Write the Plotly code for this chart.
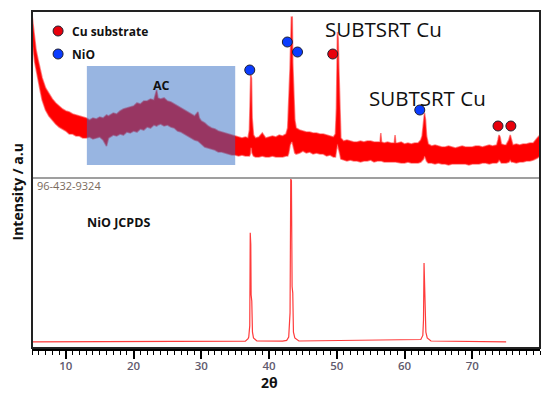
import plotly.graph_objects as go

# ---------------- data ----------------
# Top panel: measured XRD pattern, noisy band given by its upper / lower envelope (a.u.)
two_theta_top = [5.0, 5.2, 5.4, 5.6, 5.9, 6.2, 6.5, 7.0, 7.5, 8.0, 8.5, 9.0, 9.5, 10.0, 10.5,
                 11.0, 11.5, 12.0, 12.5, 13.0, 13.5, 14.0, 14.5, 15.0, 15.5, 16.0, 16.3, 17.0,
                 17.5, 18.0, 18.5, 19.0, 19.5, 20.0, 20.5, 21.0, 21.5, 22.0, 22.5, 23.0, 23.4,
                 23.6, 24.0, 24.5, 25.0, 25.5, 26.0, 26.5, 27.0, 27.5, 28.0, 28.5, 29.0, 29.5,
                 29.7, 30.0, 30.5, 31.0, 31.5, 32.0, 32.5, 33.0, 33.5, 34.0, 34.5, 35.0, 35.5,
                 36.0, 36.5, 36.9, 37.1, 37.22, 37.3, 37.4, 37.5, 37.7, 38.0, 38.5, 39.0, 39.5,
                 40.0, 40.5, 41.0, 41.5, 42.0, 42.5, 42.75, 42.9, 43.1, 43.3, 43.42, 43.5, 43.65,
                 43.8, 44.0, 44.5, 45.0, 45.5, 46.0, 46.5, 47.0, 47.5, 48.0, 48.5, 49.0, 49.5,
                 49.8, 49.95, 50.1, 50.2, 50.3, 50.45, 50.6, 51.0, 51.5, 52.0, 52.5, 53.0, 53.5,
                 54.0, 54.5, 55.0, 55.5, 56.0, 56.4, 56.5, 56.6, 57.0, 57.5, 58.0, 58.5, 58.6,
                 58.7, 59.0, 59.5, 60.0, 60.5, 61.0, 61.5, 62.0, 62.4, 62.6, 62.8, 62.95, 63.1,
                 63.25, 63.5, 64.0, 64.5, 65.0, 65.5, 66.0, 66.5, 67.0, 67.5, 68.0, 68.5, 69.0,
                 69.5, 70.0, 70.5, 71.0, 71.5, 72.0, 72.5, 73.0, 73.6, 73.8, 73.95, 74.1, 74.3,
                 74.7, 75.0, 75.4, 75.6, 75.8, 76.0, 76.5, 77.0, 77.5, 78.0, 78.5, 79.0, 79.6,
                 80.0]
intensity_top_upper = [163, 150, 135, 128, 118, 108, 100, 90, 84, 79, 75, 72, 69, 67, 66,
                       64, 63, 62, 61, 60, 58, 60, 59, 61, 60, 63, 62, 65,
                       64, 67, 69, 70, 71, 72, 75, 74, 77, 77, 79, 78, 88,
                       80, 79, 80, 77, 76, 74, 72, 70, 68, 66, 64, 62, 66,
                       60, 57, 55, 52, 50, 49, 47, 46, 45, 44, 43, 42, 41,
                       40, 41, 40, 48, 70, 103, 100, 60, 43, 40, 41, 45, 40,
                       41, 42, 41, 43, 42, 44, 50, 75, 110, 161, 161, 115, 80,
                       58, 50, 48, 47, 46, 46, 45, 45, 44, 44, 43, 42, 41,
                       44, 70, 146, 140, 110, 70, 40, 37, 38, 37, 36, 36, 37,
                       36, 37, 37, 36, 36, 36, 45, 36, 35, 36, 35, 35, 43,
                       35, 35, 36, 34, 35, 34, 35, 35, 38, 42, 55, 65, 58,
                       42, 34, 32, 33, 32, 31, 31, 32, 31, 30, 31, 32, 31,
                       31, 31, 32, 32, 31, 32, 33, 32, 33, 38, 43, 41, 34,
                       33, 33, 38, 43, 38, 33, 34, 33, 34, 34, 35, 35, 40,
                       43]
intensity_top_lower = [143, 128, 116, 108, 98, 88, 78, 68, 62, 58, 54, 51, 49, 47, 44,
                       44, 42, 42, 40, 40, 41, 39, 40, 41, 38, 32, 40, 43,
                       42, 44, 43, 46, 45, 47, 46, 49, 48, 51, 50, 53, 52,
                       53, 54, 52, 53, 51, 50, 47, 46, 44, 42, 40, 38, 37,
                       36, 34, 31, 30, 29, 28, 26, 26, 25, 24, 23, 23, 22,
                       23, 22, 22, 22, 24, 30, 30, 25, 22, 21, 21, 22, 21,
                       21, 22, 21, 21, 21, 22, 22, 25, 33, 36, 36, 34, 30,
                       25, 24, 25, 27, 25, 26, 24, 25, 24, 24, 22, 23, 21,
                       21, 28, 34, 34, 30, 24, 19, 18, 17, 18, 17, 17, 16,
                       17, 17, 18, 16, 17, 17, 17, 17, 16, 16, 16, 16, 16,
                       16, 16, 15, 15, 16, 15, 15, 15, 16, 17, 19, 22, 20,
                       17, 15, 15, 14, 15, 14, 14, 13, 14, 14, 14, 14, 14,
                       13, 14, 14, 14, 15, 15, 14, 15, 15, 16, 18, 17, 15,
                       15, 15, 16, 18, 16, 16, 15, 16, 16, 17, 17, 18, 20,
                       22]

# Bottom panel: NiO reference pattern (relative intensity, %)
two_theta_ref = [5.0, 36.5, 36.9, 37.0, 37.15, 37.22, 37.3, 37.35, 37.45, 37.55, 37.7, 38.2,
                 42.0, 42.6, 42.9, 43.1, 43.2, 43.3, 43.4, 43.5, 43.6, 43.8, 44.4,
                 62.4, 62.7, 62.8, 62.88, 62.95, 63.05, 63.15, 63.35, 63.9, 75.0]
intensity_ref = [0, 0.5, 2, 3, 10, 67, 60, 29, 25, 6, 2.5, 0.6,
                 0.5, 1, 3, 18, 100, 99, 34, 30, 6, 2.5, 0.6,
                 1.5, 4, 13.5, 48.5, 34, 24.5, 6, 2.5, 0.6, 0]

# Phase markers on the measured pattern
cu_marker_theta = [49.4, 73.8, 75.7]
cu_marker_int = [124, 52, 52]
nio_marker_theta = [37.15, 42.7, 44.2, 62.25]
nio_marker_int = [108, 136, 126, 68]

x_ticks = [10, 20, 30, 40, 50, 60, 70]
ac_range = [13.1, 35.0]

RED = "#ff0000"
BLUE = "#0a3cff"
CU_RED = "#e8000b"

fig = go.Figure()

# measured pattern as filled noisy band
fig.add_trace(go.Scatter(
    x=two_theta_top + two_theta_top[::-1],
    y=intensity_top_upper + intensity_top_lower[::-1],
    fill="toself", fillcolor=RED, mode="lines",
    line=dict(color="rgba(255,40,40,0.55)", width=1.6), yaxis="y2",
    hoverinfo="skip", showlegend=False))

# reference pattern
fig.add_trace(go.Scatter(
    x=two_theta_ref, y=intensity_ref, mode="lines",
    line=dict(color="#ff3b3b", width=1.2), yaxis="y", showlegend=False))

# markers
fig.add_trace(go.Scatter(
    x=cu_marker_theta, y=cu_marker_int, mode="markers", yaxis="y2",
    marker=dict(size=10, color=CU_RED, line=dict(color="#202030", width=1)), showlegend=False))
fig.add_trace(go.Scatter(
    x=nio_marker_theta, y=nio_marker_int, mode="markers", yaxis="y2",
    marker=dict(size=10, color=BLUE, line=dict(color="#202030", width=1)), showlegend=False))
# legend markers
fig.add_trace(go.Scatter(
    x=[8.85, 8.85], y=[147, 124], mode="markers", yaxis="y2",
    marker=dict(size=10, color=[CU_RED, BLUE], line=dict(color="#202030", width=1)),
    showlegend=False))

SPLIT = (348 - 178) / 337.0

# the page body adds an 8 px margin, so the figure is 8 px smaller and margins shifted
fig.update_layout(
    width=542, height=386,
    margin=dict(l=24, r=10, t=3, b=46, autoexpand=False),
    paper_bgcolor="white", plot_bgcolor="white",
    font=dict(family="Open Sans", color="black"),
    xaxis=dict(
        range=[5, 80], tickvals=x_ticks, ticks="outside", ticklen=8, tickwidth=1.5,
        tickcolor="black", showgrid=False, zeroline=False,
        showline=True, linecolor="black", linewidth=2.5,
        tickfont=dict(size=11.5, color="#5f5a6e", family="Open Sans", weight=600),
        ticklabelstandoff=-3,
        minor=dict(dtick=1, ticks="outside", ticklen=4, tickwidth=1, tickcolor="black"),
        anchor="y"),
    yaxis=dict(domain=[0, SPLIT], range=[-3.7, 100.6], showticklabels=False, ticks="",
               showgrid=False, zeroline=False, showline=False),
    yaxis2=dict(domain=[SPLIT, 1], range=[0, 167], showticklabels=False, ticks="",
                showgrid=False, zeroline=False, showline=False, anchor="x"),
    shapes=[
        dict(type="rect", xref="x", yref="y2", x0=ac_range[0], x1=ac_range[1], y0=13, y1=112,
             fillcolor="rgba(50,108,196,0.5)", line=dict(width=0), layer="above"),
        dict(type="line", xref="paper", yref="paper", x0=0, x1=1, y0=SPLIT, y1=SPLIT,
             line=dict(color="#7f7f7f", width=1.5)),
        dict(type="rect", xref="paper", yref="paper", x0=0, x1=1, y0=0, y1=1,
             line=dict(color="#222222", width=2)),
    ],
    annotations=[
        dict(x=10.6, y=147, xref="x", yref="y2", text="<b>Cu substrate</b>", showarrow=False,
             xanchor="left", font=dict(size=12, color="#111111")),
        dict(x=10.6, y=124, xref="x", yref="y2", text="<b>NiO</b>", showarrow=False,
             xanchor="left", font=dict(size=12, color="#111111")),
        dict(x=24.1, y=93, xref="x", yref="y2", text="<b>AC</b>", showarrow=False,
             font=dict(size=12.5, color="#111111")),
        dict(x=56.9, y=149, xref="x", yref="y2", text="SUBTSRT Cu", showarrow=False,
             font=dict(size=20.5, color="#111111")),
        dict(x=63.4, y=80, xref="x", yref="y2", text="SUBTSRT Cu", showarrow=False,
             font=dict(size=20.5, color="#111111")),
        dict(x=5.5, y=96.3, xref="x", yref="y", text="96-432-9324", showarrow=False,
             xanchor="left", font=dict(size=11, color="#7a6a5c")),
        dict(x=12.84, y=73, xref="x", yref="y", text="<b>NiO JCPDS</b>", showarrow=False,
             xanchor="left", font=dict(size=12.5, color="#111111")),
        dict(x=-0.0285, y=0.463, xref="paper", yref="paper", text="<b>Intensity / a.u</b>",
             showarrow=False, textangle=-90, xanchor="center", yanchor="middle",
             font=dict(size=14, color="#111111")),
        dict(x=0.4685, y=-0.101, xref="paper", yref="paper", text="<b>2θ</b>",
             showarrow=False, xanchor="center", yanchor="middle",
             font=dict(size=14, color="#111111")),
    ],
)

fig.write_html("out.html")
